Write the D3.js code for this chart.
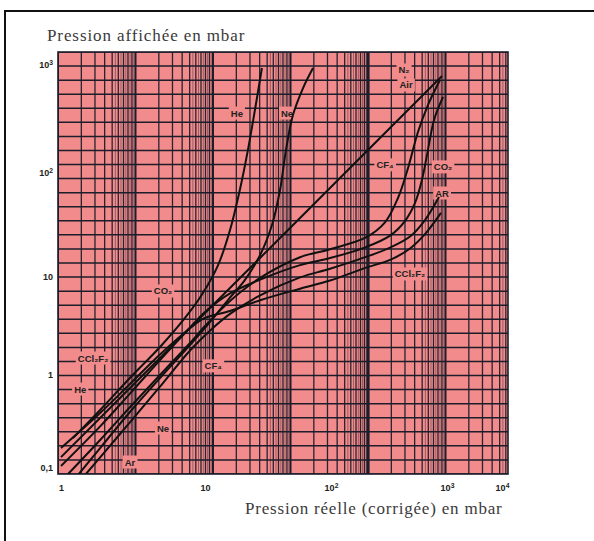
<!DOCTYPE html>
<html>
<head>
<meta charset="utf-8">
<script src="https://cdn.jsdelivr.net/npm/d3@7"></script>
<style>
  body { margin: 0; background: #fff; }
  svg { display: block; }
</style>
</head>
<body>
<script>
// Axis ticks (mbar) and their printed labels
const xTicks = [1, 10, 100, 1000, 10000];
const xTickLabels = ["1", "10", "10²", "10³", "10⁴"];
const yTicks = [0.1, 1, 10, 100, 1000];
const yTickLabels = ["0,1", "1", "10", "10²", "10³"];

// Each curve: [real (corrected) pressure, displayed pressure], mbar
const gasHe = [[1.21,0.210],[1.87,0.421],[3.01,0.929],[4.87,1.93],[7.26,3.82],[9.68,6.87],[12.7,13.0],[15.8,28.3],[18.9,68.7],[21.9,163],[24.9,383],[28.3,938]];
const gasNe = [[1.33,0.0862],[1.87,0.164],[3.01,0.400],[4.87,0.929],[7.87,2.02],[10,3.02],[15.2,5.82],[20.7,9.31],[27.4,16.3],[34.0,31.6],[39.4,68.7],[43.9,163],[49.9,344],[60.0,612],[72.0,938]];
const gasN2Air = [[1,0.131],[3.71,1],[10,4.29],[19.3,10],[100,73.3],[132,100],[906,791]];
const gasCF4 = [[1.12,0.0862],[1.87,0.200],[3.01,0.450],[4.87,1.00],[7.87,2.12],[10,3.16],[15.8,5.70],[27.4,9.80],[56.8,15.5],[98.2,18.5],[200,24.0],[292,33.5],[378,57.5],[461,111],[562,240],[685,426],[870,726]];
const gasCO2 = [[1,0.105],[1.87,0.280],[3.01,0.630],[4.87,1.42],[7.87,3.05],[10,4.39],[15.8,6.80],[27.4,9.40],[56.8,13.0],[98.2,15.2],[200,19.4],[323,25.0],[434,34.5],[530,51.5],[608,85.7],[685,163],[773,310],[925,506]];
const gasAr = [[1.49,0.0862],[1.87,0.130],[3.01,0.310],[4.87,0.750],[7.87,1.78],[11.0,2.85],[15.8,4.20],[27.4,6.50],[56.8,9.90],[98.2,12.0],[200,15.6],[323,19.2],[480,24.5],[646,35.3],[853,58.8]];
const gasCCl2F2 = [[1,0.164],[1.87,0.390],[3.01,0.800],[4.87,1.62],[7.87,3.00],[10,3.82],[15.8,4.50],[27.4,5.80],[56.8,7.60],[98.2,9.20],[200,12.3],[323,14.6],[480,18.8],[646,25.8],[887,41.3]];

const curves = [gasHe, gasNe, gasN2Air, gasCF4, gasCO2, gasAr, gasCCl2F2];

// Gas names written on the chart, anchored at [real, displayed] mbar
const labelTexts = ["He", "Ne", "N₂", "Air", "CF₄", "CO₂", "AR", "CCl₂F₂", "CO₂", "CCl₂F₂", "CF₄", "He", "Ne", "Ar"];
const labelAnchors = [[17.9,359],[44.8,359],[426,899],[443,653],[292,119],[925,114],[906,64.2],[480,10.7],[5.11,7.20],[1.67,1.49],[11.6,1.24],[1.36,0.706],[5.11,0.269],[3.01,0.116]];

const W = 594, H = 541;
const P = { l: 58, r: 508, t: 52, b: 474 };
const PINK = "#f28b8b";
const INK = "#1d1d2b";
const SANS = "'Liberation Sans', 'DejaVu Sans', sans-serif";
const SERIF = "'Liberation Serif', 'DejaVu Serif', serif";

const svg = d3.select("body").append("svg")
  .attr("width", W).attr("height", H);

// outer frame (only the left and top edges fall inside the page)
svg.append("path")
  .attr("d", `M5,${H + 5}V11H${W + 5}`)
  .attr("fill", "none").attr("stroke", "#111").attr("stroke-width", 2);

// data scales: piecewise log so each decade sits where it is printed
const x = d3.scaleLog().domain(xTicks).range([61, 205, 331, 447, 502]);
const y = d3.scaleLog().domain(yTicks).range([468, 375, 277, 173, 65]);

// graph paper
svg.append("defs").append("clipPath").attr("id", "plot")
  .append("rect").attr("x", P.l).attr("y", P.t)
  .attr("width", P.r - P.l).attr("height", P.b - P.t);

svg.append("rect").attr("x", P.l).attr("y", P.t)
  .attr("width", P.r - P.l).attr("height", P.b - P.t)
  .attr("fill", PINK);

const grid = svg.append("g").attr("clip-path", "url(#plot)");

// paper: log cycles across, evenly ruled down
const paperX = d3.scaleLog().domain([1, Math.pow(10, (P.r - P.l) / 77.5)]).range([P.l, P.r]);
const paperY = d3.scaleLinear().domain([0, 30]).range([P.b, P.t]);

const vLines = [];
for (let k = 0; k < 6; k++) {
  for (let d = 1; d < 10; d += 0.5) {
    const v = d * Math.pow(10, k);
    if (v > paperX.domain()[1]) continue;
    const whole = Number.isInteger(d);
    if (!whole && d < 5) continue;
    vLines.push({ v, kind: d === 1 ? (k === 4 ? "heavy" : "decade") : whole ? "major" : "minor" });
  }
}
const vWidth = { heavy: 3.2, decade: 2, major: 1.3, minor: 0.7 };
const vOpacity = { heavy: 1, decade: 1, major: 0.95, minor: 0.6 };

grid.selectAll("line.h").data(d3.range(0, 31)).join("line")
  .attr("class", "h")
  .attr("x1", P.l).attr("x2", P.r)
  .attr("y1", d => paperY(d)).attr("y2", d => paperY(d))
  .attr("stroke", INK).attr("stroke-width", 1.5);

grid.selectAll("line.v").data(vLines).join("line")
  .attr("class", "v")
  .attr("x1", d => paperX(d.v)).attr("x2", d => paperX(d.v))
  .attr("y1", P.t).attr("y2", P.b)
  .attr("stroke", INK)
  .attr("stroke-width", d => vWidth[d.kind])
  .attr("stroke-opacity", d => vOpacity[d.kind]);

svg.append("rect").attr("x", P.l).attr("y", P.t)
  .attr("width", P.r - P.l).attr("height", P.b - P.t)
  .attr("fill", "none").attr("stroke", INK).attr("stroke-width", 1.6);

// gas names on small paper patches that hide the ruling
const labels = svg.append("g")
  .attr("font-family", SANS)
  .attr("font-size", 9.5).attr("font-weight", "bold").attr("fill", "#222");

labelTexts.forEach((t, i) => {
  const [lx, ly] = labelAnchors[i];
  const g = labels.append("g");
  const txt = g.append("text")
    .attr("x", x(lx)).attr("y", y(ly))
    .attr("text-anchor", "middle").attr("dominant-baseline", "central")
    .text(t);
  const bb = txt.node().getBBox();
  g.insert("rect", "text")
    .attr("x", bb.x - 2).attr("y", bb.y - 1)
    .attr("width", bb.width + 4).attr("height", bb.height + 2)
    .attr("fill", PINK);
});

// calibration curves
const line = d3.line()
  .x(d => x(d[0])).y(d => y(d[1]))
  .curve(d3.curveCatmullRom.alpha(0.5));

svg.append("g").attr("clip-path", "url(#plot)")
  .selectAll("path").data(curves).join("path")
  .attr("d", line)
  .attr("fill", "none").attr("stroke", "#111")
  .attr("stroke-width", 2).attr("stroke-linejoin", "round");

// axes; powers of ten get a raised exponent
const SUP = { "¹": "1", "²": "2", "³": "3", "⁴": "4" };
function powerText(sel, texts) {
  sel.each(function (d, i) {
    const t = texts[i];
    const el = d3.select(this).text(null);
    const last = t.slice(-1);
    if (SUP[last]) {
      el.append("tspan").text(t.slice(0, -1));
      el.append("tspan").attr("dy", "-0.45em").attr("font-size", "75%").text(SUP[last]);
    } else {
      el.text(t);
    }
  });
}

const axisFont = g => g.attr("font-family", SANS)
  .attr("font-size", 9).attr("font-weight", "bold");

svg.append("g").attr("transform", `translate(0,${P.b})`)
  .call(d3.axisBottom(x).tickValues(xTicks).tickSize(0).tickPadding(11))
  .call(axisFont)
  .call(g => g.select(".domain").remove())
  .call(g => g.selectAll(".tick text").attr("fill", "#222").call(powerText, xTickLabels));

svg.append("g").attr("transform", `translate(${P.l},0)`)
  .call(d3.axisLeft(y).tickValues(yTicks).tickSize(0).tickPadding(5))
  .call(axisFont)
  .call(g => g.select(".domain").remove())
  .call(g => g.selectAll(".tick text").attr("fill", "#222").call(powerText, yTickLabels));

// axis titles
svg.append("text")
  .attr("x", 47).attr("y", 41)
  .attr("font-family", SERIF)
  .attr("font-size", 17).attr("letter-spacing", 0.9).attr("fill", "#3a3a3a")
  .text("Pression affichée en mbar");

svg.append("text")
  .attr("x", 245).attr("y", 514)
  .attr("font-family", SERIF)
  .attr("font-size", 17).attr("letter-spacing", 0.8).attr("fill", "#3a3a3a")
  .text("Pression réelle (corrigée) en mbar");
</script>
</body>
</html>
